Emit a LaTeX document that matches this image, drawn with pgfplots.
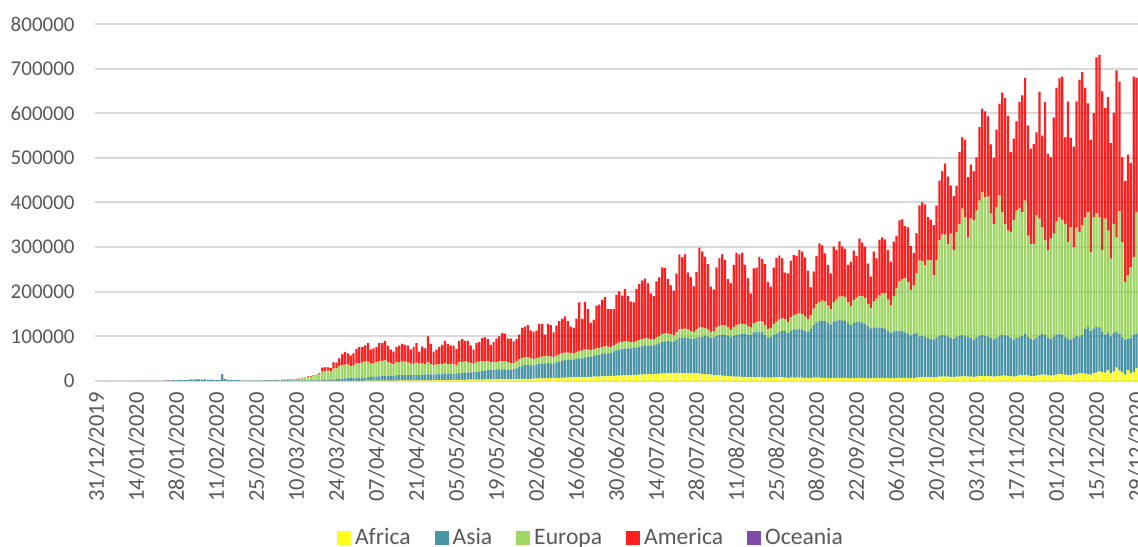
\documentclass[border=0pt]{standalone}
\usepackage{fontspec}
\setmainfont{Carlito}
\usepackage{pgfplots}
\usepackage{pgfplotstable}
\pgfplotsset{compat=1.18}
\definecolor{cAf}{HTML}{FFFF00}
\definecolor{cAs}{HTML}{31859C}
\definecolor{cEu}{HTML}{92D050}
\definecolor{cAm}{HTML}{FF0000}
\definecolor{cOc}{HTML}{7030A0}
\definecolor{txt}{HTML}{595959}
\definecolor{grd}{HTML}{D9D9D9}

\pgfplotstableread{
d af as eu am oc
0 0 27 0 0 0
1 0 0 0 0 0
2 0 0 0 0 0
3 0 17 0 0 0
4 0 0 0 0 0
5 0 15 0 0 0
6 0 0 0 0 0
7 0 0 0 0 0
8 0 0 0 0 0
9 0 0 0 0 0
10 0 0 0 0 0
11 0 0 0 0 0
12 0 0 0 0 0
13 0 1 0 0 0
14 0 1 0 0 0
15 0 0 0 0 0
16 0 1 0 0 0
17 0 4 0 0 0
18 0 17 0 0 0
19 0 77 0 0 0
20 0 150 0 0 0
21 0 150 0 1 0
22 0 100 0 0 0
23 0 260 0 0 0
24 0 450 2 1 0
25 0 690 1 1 4
26 0 790 0 2 0
27 0 1770 0 0 1
28 0 1480 0 0 0
29 0 1750 1 0 1
30 0 2000 0 0 0
31 0 2110 5 1 2
32 0 2600 4 1 0
33 0 2830 1 1 3
34 0 3240 2 1 0
35 0 3890 0 0 0
36 0 3700 1 0 0
37 0 3150 0 0 0
38 0 3400 4 0 0
39 0 2660 2 0 0
40 0 2980 1 0 0
41 0 2480 2 0 0
42 0 2030 1 1 0
43 0 2020 0 0 0
44 0 15150 1 0 0
45 1 4160 0 1 0
46 0 2650 1 0 0
47 0 2020 0 0 0
48 0 2060 0 0 0
49 0 1900 0 0 0
50 0 1780 0 0 0
51 0 420 3 0 0
52 0 950 3 0 0
53 0 1050 20 2 0
54 0 870 60 0 0
55 0 430 80 0 0
56 0 800 100 0 0
57 1 740 180 0 0
58 0 1000 250 2 0
59 1 1320 240 3 2
60 1 1260 580 5 1
61 0 1400 600 20 3
62 2 1300 600 20 2
63 2 1100 1100 30 4
64 2 900 1200 50 8
65 5 1200 1400 60 10
66 3 1500 1900 80 5
67 5 1900 1900 110 10
68 10 1600 2300 130 8
69 10 1300 2700 150 12
70 15 1300 3400 200 20
71 20 1200 3500 300 20
72 25 1600 4800 400 30
73 30 1200 5800 500 40
74 40 1400 8000 700 50
75 60 1000 8200 900 60
76 70 1200 10000 1100 80
77 100 1300 11000 1600 100
78 100 1500 13000 2700 200
79 100 2000 19000 8700 200
80 200 2500 20000 8000 300
81 200 3000 20000 7500 300
82 200 3000 19000 6500 300
83 200 3500 24000 14000 300
84 300 4000 24000 12400 300
85 300 5000 28000 17400 300
86 400 5000 30000 24200 400
87 400 5500 31000 27700 400
88 400 6000 30000 25200 400
89 400 6000 27000 23200 400
90 500 6000 28000 27200 300
91 500 6000 33000 32200 300
92 500 6000 34000 35200 300
93 500 6500 34000 34700 300
94 600 7000 36000 36100 300
95 600 8000 35000 41100 300
96 600 8500 30000 30700 200
97 700 9000 30000 33100 200
98 700 9000 33000 33100 200
99 800 9500 35000 39500 200
100 800 10000 34000 40100 100
101 900 10000 35000 44000 100
102 900 10000 32000 36000 100
103 900 11000 28000 30000 100
104 1000 11000 26000 27900 100
105 1000 11500 29000 34400 100
106 1100 12000 29000 36800 100
107 1100 12000 30000 39800 100
108 1200 12000 30000 37700 100
109 1200 12000 28000 37700 100
110 1300 12500 25000 31100 100
111 1300 12000 25000 37600 100
112 1400 12000 28000 43500 100
113 1400 12500 25000 27000 100
114 1500 12500 26000 36900 100
115 1500 13000 24000 34400 100
116 1600 13000 27000 58300 100
117 1600 13000 24000 44300 100
118 1700 13000 20000 31200 100
119 1800 13000 22000 33100 100
120 1900 13000 23000 38100 20
121 2000 13000 23000 43000 20
122 2000 13500 24000 50500 20
123 2100 13500 23000 44400 20
124 2200 14000 22000 40800 20
125 2300 14000 21000 41700 20
126 2400 14000 19000 36600 20
127 2500 15000 25000 47500 20
128 2600 15000 25000 51400 20
129 2700 16000 25000 46300 20
130 2800 16000 24000 47200 20
131 2900 16500 21000 38600 20
132 3000 17000 19000 31000 20
133 3100 17000 22000 42900 20
134 3200 18000 22000 43800 20
135 3300 19000 22000 51700 20
136 3300 20000 21000 53700 20
137 3400 21000 20000 49600 20
138 3500 21000 17000 39500 20
139 3600 21000 17000 45400 20
140 3700 21000 18000 52300 20
141 3800 22000 18000 56200 20
142 3900 22000 18000 63100 20
143 4000 22000 18000 62000 20
144 4100 21000 17000 52900 20
145 4200 21000 15000 54800 20
146 4300 22000 14000 48700 20
147 4400 24000 16000 49600 20
148 4500 27000 17000 55500 20
149 4600 30000 17000 67400 20
150 4800 31000 17000 69200 20
151 5000 31000 17000 72000 20
152 5000 30000 16000 62000 20
153 5200 30000 14000 60800 20
154 5400 31000 15000 61600 20
155 5600 32000 16000 74400 20
156 5800 33000 16000 73200 20
157 6000 33000 16000 49000 20
158 6200 34000 16000 71800 20
159 6400 33000 15000 70600 20
160 6600 33000 14000 55400 20
161 6800 35000 15000 67200 20
162 7000 36000 16000 75000 20
163 7200 38000 17000 76800 20
164 7500 39000 17000 81500 20
165 7800 40000 16000 70200 20
166 8000 40000 15000 59000 20
167 8200 40000 14000 56800 20
168 8400 41000 16000 74600 20
169 8600 42000 17000 108400 20
170 8800 42000 17000 71200 20
171 9000 44000 17000 107000 20
172 9200 45000 16000 90800 20
173 9400 45000 14000 61600 20
174 9600 47000 14000 66400 20
175 9800 48000 15000 96200 20
176 10000 49000 15000 97000 20
177 10300 50000 16000 104700 20
178 10600 51000 16000 110400 20
179 10900 51000 15000 84100 20
180 11200 52000 13000 84800 20
181 11500 55000 13000 81500 20
182 11800 57000 15000 109200 20
183 12100 58000 16000 114900 20
184 12400 59000 16000 103600 20
185 12700 60000 16000 117300 20
186 13000 60000 15000 102000 20
187 13300 60000 14000 90700 20
188 13600 60000 13000 89400 20
189 13900 61000 15000 116100 50
190 14200 62000 16000 124800 100
191 14500 63000 17000 130500 150
192 14800 64000 17000 133200 200
193 15100 64000 16000 123900 200
194 15400 63000 15000 102600 200
195 15700 63000 14000 97300 250
196 16000 66000 16000 125000 300
197 16300 68000 17000 130700 300
198 16600 71000 18000 148400 350
199 16900 72000 18000 146100 400
200 17200 72000 17000 121800 400
201 17500 71000 16000 109500 400
202 17800 70000 15000 99200 450
203 18000 74000 17000 131000 500
204 18000 78000 19000 168000 550
205 17800 79000 20000 160200 600
206 17600 80000 20000 166400 600
207 17400 79000 19000 127600 650
208 17200 78000 17000 119800 650
209 17000 77000 16000 102000 700
210 16800 80000 19000 128200 700
211 16500 82000 21000 178500 700
212 16200 82000 22000 169800 700
213 15500 86000 17000 159500 500
214 15000 85000 15000 147000 500
215 14000 83000 13000 101000 500
216 13500 84000 14000 92500 500
217 13000 88000 19000 134000 450
218 12500 90000 21000 151500 450
219 12000 91000 22000 159000 450
220 11500 92000 21000 146500 400
221 11000 90000 19000 108000 400
222 10500 88000 16000 104500 400
223 10000 91000 20000 139000 350
224 9800 93000 23000 161200 350
225 9500 95000 23000 156500 350
226 9200 96000 23000 158800 300
227 9000 96000 22000 133000 300
228 8800 95000 19000 107200 300
229 8500 94000 17000 76500 250
230 8600 100000 21000 122400 250
231 8500 101000 23000 121500 200
232 8400 102000 24000 143600 200
233 8200 101000 24000 139800 200
234 7800 95000 22000 137200 150
235 7500 90000 19000 105500 150
236 7600 91000 20000 92400 100
237 8000 95000 25000 126000 100
238 8100 98000 27000 142900 100
239 8000 102000 28000 143000 100
240 7900 104000 29000 134100 100
241 7600 104000 27000 104400 100
242 7200 100000 24000 109800 100
243 7500 105000 30000 126500 100
244 7800 107000 33000 134200 100
245 7700 108000 34000 130300 100
246 7600 109000 36000 140400 100
247 7400 108000 35000 139600 100
248 7000 106000 31000 133000 100
249 6800 104000 28000 108200 100
250 7000 110000 31000 62000 100
251 7300 118000 37000 82700 100
252 7400 124000 40000 108600 100
253 7300 127000 43000 130700 100
254 7200 128000 45000 123800 100
255 7000 127000 44000 108000 100
256 6600 124000 38000 91400 100
257 6400 120000 35000 79600 100
258 6800 126000 44000 124200 100
259 7000 128000 48000 110000 100
260 7000 130000 52000 124000 100
261 6900 129000 55000 110100 100
262 6700 128000 54000 107300 100
263 6300 124000 46000 83700 100
264 6100 119000 42000 99900 100
265 6500 123000 52000 110500 100
266 6700 125000 55000 93300 100
267 6700 126000 58000 128300 100
268 6600 124000 60000 119400 100
269 6400 122000 58000 114600 100
270 6000 117000 50000 90000 100
271 5800 112000 46000 70200 100
272 6200 114000 58000 111800 100
273 6500 113000 65000 90500 100
274 6600 113000 72000 124400 100
275 6600 112000 78000 125400 100
276 6500 110000 80000 120500 100
277 6200 106000 70000 110800 100
278 6000 102000 62000 97000 100
279 6400 104000 80000 121600 100
280 6800 106000 95000 117200 100
281 7000 106000 110000 137000 100
282 7100 104000 118000 132900 100
283 7000 102000 122000 116000 100
284 6700 100000 115000 122300 100
285 6400 96000 102000 97600 100
286 7000 98000 110000 72000 100
287 7500 100000 135000 88500 100
288 8500 91500 170000 123000 50
289 9000 92000 168000 131000 50
290 9000 90000 160000 137000 50
291 8500 88500 173000 97000 50
292 8000 86000 176000 91000 50
293 7500 84500 145000 112000 50
294 8500 89500 172000 123000 50
295 9500 91500 215000 133000 50
296 10000 93000 225000 142000 50
297 10000 92000 226000 159000 50
298 9500 90500 207000 151000 50
299 9000 88000 233000 108000 50
300 8500 85500 199000 121000 50
301 9500 89500 235000 103000 50
302 10000 91000 251000 161000 50
303 10500 92500 283000 160000 50
304 10500 90500 266000 174000 50
305 10000 89000 222000 136000 50
306 9500 86500 268000 121000 50
307 9000 84000 267000 110000 50
308 10000 88000 284000 119000 50
309 11000 90000 303000 165000 50
310 11500 91500 320000 187000 50
311 11000 90000 311000 192000 50
312 11000 89000 313000 180000 50
313 10500 86500 279000 154000 50
314 9500 83500 259000 148000 50
315 10500 85500 294000 173000 50
316 11500 88500 316000 205000 50
317 12000 91000 275000 268000 50
318 12000 90000 250000 282000 50
319 11500 89500 236000 257000 50
320 10500 85500 238000 179000 50
321 10000 82000 268000 183000 50
322 11500 85500 285000 200000 50
323 12500 86500 287000 239000 50
324 13000 88000 277000 262000 50
325 13000 93000 298000 275000 50
326 12500 86500 227000 246000 50
327 11000 84000 212000 213000 50
328 10500 81500 215000 224000 50
329 12000 85000 274000 186000 50
330 13000 89000 262000 284000 50
331 14000 91000 240000 205000 50
332 14000 89000 212000 310000 50
333 13000 85000 195000 216000 50
334 12000 82000 225000 182000 50
335 13000 86000 231000 260000 50
336 14500 89500 253000 300000 50
337 15500 90500 261000 311000 50
338 15500 88500 256000 322000 50
339 14500 84500 253000 194000 50
340 13000 82000 217000 314000 50
341 12500 79500 253000 200000 50
342 14500 81500 204000 225000 50
343 16000 85000 244000 281000 50
344 17000 82000 235000 341000 50
345 17000 86000 246000 343000 50
346 16500 99500 251000 290000 50
347 15000 106000 257000 244000 50
348 14000 98000 177000 251000 50
349 18000 100000 249000 233000 50
350 19000 102000 255000 349000 50
351 22000 98000 247000 364000 50
352 20000 90000 183000 356000 50
353 19000 85000 260000 248000 50
354 24000 84000 229000 299000 50
355 17000 83000 174000 259000 50
356 21000 87000 244000 249000 50
357 30000 80000 212000 374000 50
358 23000 83000 275000 290000 50
359 20000 78000 213000 190000 50
360 14000 78000 130000 226000 50
361 25000 69000 143000 270000 50
362 18000 78000 159000 233000 50
363 20000 84000 174000 404000 50
364 28000 78000 272000 301000 50
}\data

\begin{document}
\begin{tikzpicture}
\begin{axis}[
  name=ax,
  scale only axis,
  width=521.5pt, height=178.5pt,
  ybar stacked, bar width=0.78,
  enlargelimits=false,
  xmin=-0.5, xmax=364.5, ymin=0, ymax=800000,
  xtick={0,14,...,364},
  xticklabels={31/12/2019,14/01/2020,28/01/2020,11/02/2020,25/02/2020,10/03/2020,24/03/2020,07/04/2020,21/04/2020,05/05/2020,19/05/2020,02/06/2020,16/06/2020,30/06/2020,14/07/2020,28/07/2020,11/08/2020,25/08/2020,08/09/2020,22/09/2020,06/10/2020,20/10/2020,03/11/2020,17/11/2020,01/12/2020,15/12/2020,29/12/2020},
  ytick={0,100000,200000,300000,400000,500000,600000,700000,800000},
  yticklabels={0,100000,200000,300000,400000,500000,600000,700000,800000},
  scaled y ticks=false,
  scaled x ticks=false,
  major tick length=0pt,
  axis line style={draw=none},
  ymajorgrids,
  grid style={grd, line width=1pt},
  yticklabel style={anchor=east, inner sep=0pt, xshift=-10pt, font=\fontsize{10.5}{12}\selectfont, text=txt},
  xticklabel style={rotate=90, anchor=east, inner sep=0pt, xshift=-5.5pt, font=\fontsize{11.3}{13}\selectfont, text=txt},
  legend columns=5,
  legend style={at={(0.4765,-0.4398)}, anchor=center, draw=none, fill=none,
    font=\fontsize{11.8}{13}\selectfont, text=txt,
    /tikz/every even column/.append style={column sep=10pt}},
  legend image code/.code={\fill[#1] (0pt,-3.5pt) rectangle (7pt,3.5pt);},
]
\addplot[fill=cAf, draw=none, fill opacity=0.88] table[x=d,y=af]{\data};
\addplot[fill=cAs, draw=none, fill opacity=0.88] table[x=d,y=as]{\data};
\addplot[fill=cEu, draw=none, fill opacity=0.88] table[x=d,y=eu]{\data};
\addplot[fill=cAm, draw=none, fill opacity=0.88] table[x=d,y=am]{\data};
\addplot[fill=cOc, draw=none, fill opacity=0.88] table[x=d,y=oc]{\data};
\legend{Africa,Asia,Europa,America,Oceania}
\end{axis}
\pgfresetboundingbox
\path ([xshift=-47.5pt,yshift=-83pt]ax.south west) rectangle ([yshift=12pt]ax.north east);
\end{tikzpicture}
\end{document}
